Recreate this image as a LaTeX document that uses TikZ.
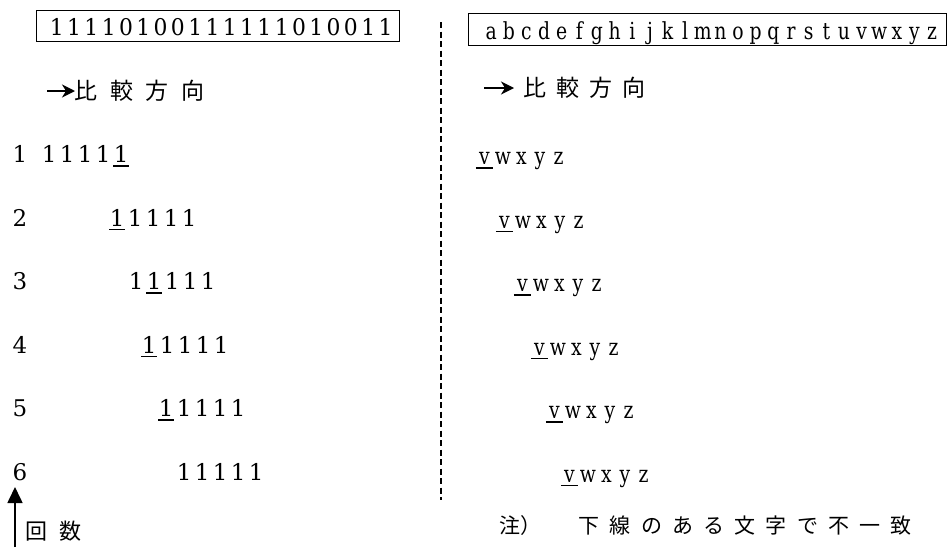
\documentclass[tikz,border=0pt]{standalone}
\usepackage{fontspec}
\usepackage{graphicx}
\usetikzlibrary{arrows.meta}
\newfontfamily\jpn{Noto Sans CJK JP}
\newfontfamily\lat{DejaVu Serif}
\newcommand\digfont{\lat\fontsize{23}{27}\selectfont}
\newcommand\letfont{\lat\fontsize{23.5}{27}\selectfont}
\newcommand\dg[1]{\makebox[18pt]{#1}}
\newcommand\udg[1]{\makebox[18pt]{\rlap{\rule[-4pt]{16pt}{1.1pt}}\makebox[16pt]{#1}}}
\newcommand\rl[1]{\makebox[18.5pt]{\scalebox{0.8}[1]{#1}}}
\newcommand\url[1]{\makebox[18.5pt]{\rlap{\rule[-4pt]{17pt}{1.1pt}}\makebox[17pt]{\scalebox{0.8}[1]{#1}}}}
\makeatletter
\newcommand\spread[3]{\@tfor\sp@c:=#3\do{\makebox[#1]{\scalebox{#2}[1]{\sp@c}}}}
\makeatother
\newcommand\jc[2]{\makebox[#1]{#2}}
\begin{document}
\begin{tikzpicture}[x=1pt,y=-1pt,
  txt/.style={inner sep=0pt, anchor=base west},
  framebox/.style={draw, line width=1.3pt, inner sep=0pt, anchor=north west, text depth=0pt},
  dashline/.style={dash pattern=on 6pt off 3.5pt, line width=1.3pt},
  cmparrow/.style={line width=1.6pt, -{Stealth[length=13pt,width=13pt,inset=4pt]}},
  cntarrow/.style={line width=1.6pt, -{Triangle[length=16pt,width=15pt]}}]
\useasboundingbox (0,0) rectangle (952,554);

% boxed strings
\node[framebox, minimum width=363pt, minimum height=31pt, text height=18pt] (lbox) at (36,10)
  {\digfont\hspace*{6pt}\spread{17.3pt}{0.95}{11110100111111010011}};
\node[framebox, minimum width=478pt, minimum height=32pt, text height=19.5pt] (rbox) at (468,13)
  {\letfont\hspace*{8pt}\spread{17.64pt}{0.8}{abcdefghijklmnopqrstuvwxyz}};

% divider
\coordinate (dtop) at (441,22);
\coordinate (dbot) at (441,500);
\draw[dashline] (dtop) -- (dbot);

% comparison direction
\coordinate (la1) at (47,91);
\coordinate (la2) at (75,91);
\draw[cmparrow] (la1) -- (la2);
\node[txt] (lcmp) at (68.25,99.5) {\jpn\fontsize{23}{26}\selectfont\jc{35.5pt}{比}\jc{35.5pt}{較}\jc{35.5pt}{方}\jc{35.5pt}{向}};
\coordinate (ra1) at (484,88);
\coordinate (ra2) at (514,88);
\draw[cmparrow] (ra1) -- (ra2);
\node[txt] (rcmp) at (518.5,96.5) {\jpn\fontsize{23}{26}\selectfont\jc{33pt}{比}\jc{33pt}{較}\jc{33pt}{方}\jc{33pt}{向}};

% row numbers
\node[anchor=base, inner sep=0pt] (n1) at (20,162.5) {\digfont 1};
\node[anchor=base, inner sep=0pt] (n2) at (20,226) {\digfont 2};
\node[anchor=base, inner sep=0pt] (n3) at (20,289.5) {\digfont 3};
\node[anchor=base, inner sep=0pt] (n4) at (20,353) {\digfont 4};
\node[anchor=base, inner sep=0pt] (n5) at (20,416.5) {\digfont 5};
\node[anchor=base, inner sep=0pt] (n6) at (20,480) {\digfont 6};

% left rows
\node[txt] (l1) at (40,162.5) {\digfont\dg{1}\dg{1}\dg{1}\dg{1}\udg{1}};
\node[txt] (l2) at (108,226) {\digfont\udg{1}\dg{1}\dg{1}\dg{1}\dg{1}};
\node[txt] (l3) at (127,289.5) {\digfont\dg{1}\udg{1}\dg{1}\dg{1}\dg{1}};
\node[txt] (l4) at (140,353) {\digfont\udg{1}\dg{1}\dg{1}\dg{1}\dg{1}};
\node[txt] (l5) at (157,416.5) {\digfont\udg{1}\dg{1}\dg{1}\dg{1}\dg{1}};
\node[txt] (l6) at (175,480) {\digfont\dg{1}\dg{1}\dg{1}\dg{1}\dg{1}};

% right rows
\node[txt] (r1) at (475,164.5) {\letfont\url{v}\rl{w}\rl{x}\rl{y}\rl{z}};
\node[txt] (r2) at (495,228) {\letfont\url{v}\rl{w}\rl{x}\rl{y}\rl{z}};
\node[txt] (r3) at (513,291.5) {\letfont\url{v}\rl{w}\rl{x}\rl{y}\rl{z}};
\node[txt] (r4) at (530,355) {\letfont\url{v}\rl{w}\rl{x}\rl{y}\rl{z}};
\node[txt] (r5) at (545,418.5) {\letfont\url{v}\rl{w}\rl{x}\rl{y}\rl{z}};
\node[txt] (r6) at (560,482) {\letfont\url{v}\rl{w}\rl{x}\rl{y}\rl{z}};

% count arrow
\coordinate (ca1) at (15,547);
\coordinate (ca2) at (15,487);
\draw[cntarrow] (ca1) -- (ca2);
\node[txt] (cnt) at (19,539) {\jpn\fontsize{22}{25}\selectfont\jc{34pt}{回}\jc{34pt}{数}};

% note
\node[txt] (note) at (499,533) {\jpn\fontsize{21}{24}\selectfont\jc{21pt}{注}\jc{21pt}{）}\hspace*{32.4pt}\jc{31.2pt}{下}\jc{31.2pt}{線}\jc{31.2pt}{の}\jc{31.2pt}{あ}\jc{31.2pt}{る}\jc{31.2pt}{文}\jc{31.2pt}{字}\jc{31.2pt}{で}\jc{31.2pt}{不}\jc{31.2pt}{一}\jc{31.2pt}{致}};
\end{tikzpicture}
\end{document}
